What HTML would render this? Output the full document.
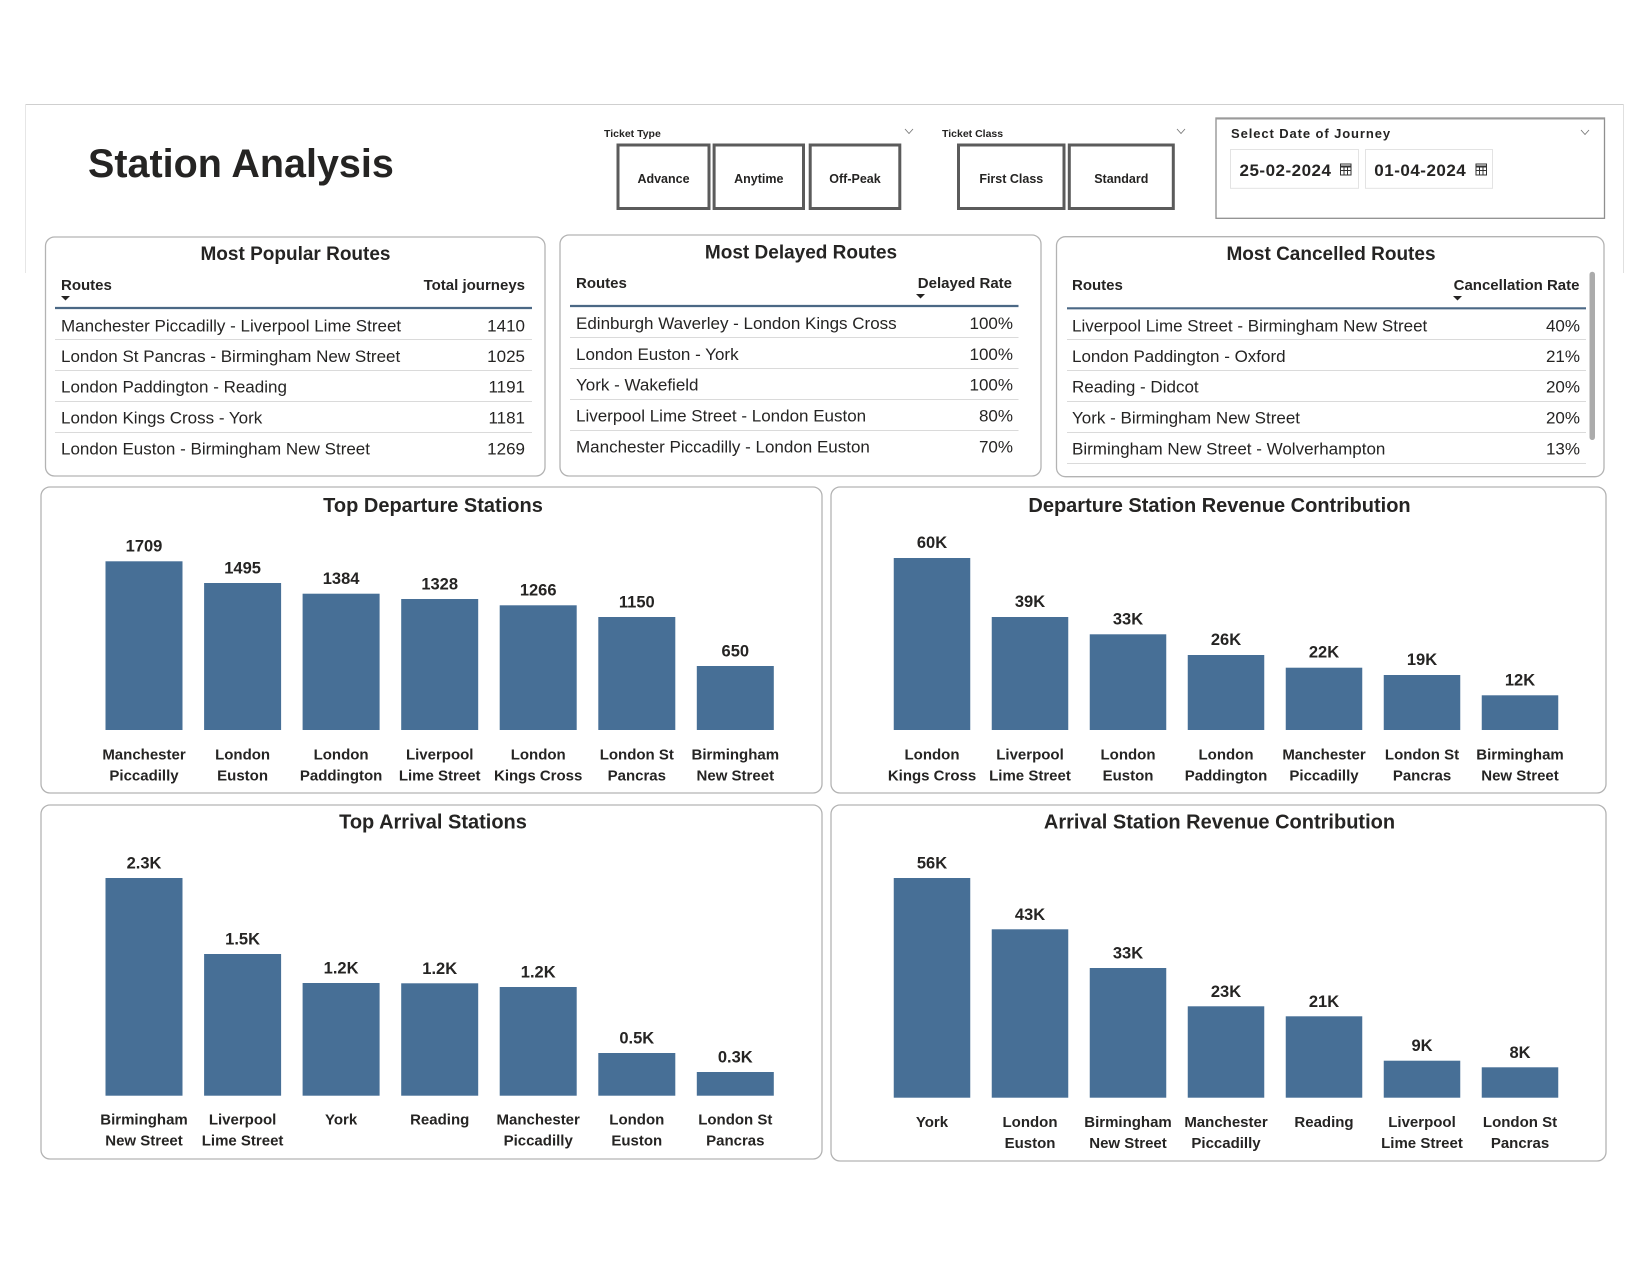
<!DOCTYPE html>
<html><head><meta charset="utf-8"><style>
html,body{margin:0;padding:0;background:#fff;}
svg{display:block;}
text{font-family:"Liberation Sans",Arial,sans-serif;fill:#252423;}
.b{font-weight:bold;}
.t17{font-size:17px;}
.h{font-size:15px;font-weight:bold;}
.ct{font-size:20px;font-weight:bold;}
.tt{font-size:19px;font-weight:bold;}
.v{font-size:16.5px;font-weight:bold;}
.x{font-size:15px;font-weight:bold;}
.bar{fill:#476f96;}
.pan{fill:#fff;stroke:#b3b3b3;stroke-width:1.3;}
.sep{stroke:#dadada;stroke-width:1;}
.hl{stroke:#4b6885;stroke-width:2.2;}
.btn{fill:#fff;stroke:#5b5b5b;stroke-width:3;}
.chev{fill:none;stroke:#777;stroke-width:0.9;}
</style></head><body>
<svg width="1650" height="1275" viewBox="0 0 1650 1275" xmlns="http://www.w3.org/2000/svg">
<rect x="0" y="0" width="1650" height="1275" fill="#fff"/>
<!-- frame lines -->
<line x1="25" y1="104.5" x2="1624" y2="104.5" stroke="#cfcfcf" stroke-width="1"/>
<line x1="25.5" y1="104" x2="25.5" y2="273" stroke="#e6e6e6" stroke-width="1"/>
<line x1="1623.5" y1="104" x2="1623.5" y2="273" stroke="#e0e0e0" stroke-width="1"/>

<!-- Title -->
<text x="88" y="177" class="b" style="font-size:39.5px">Station Analysis</text>

<!-- Ticket Type -->
<text x="604" y="137" class="b" style="font-size:10.5px">Ticket Type</text>
<polyline class="chev" points="905,129 909,133.5 913,129"/>
<rect class="btn" x="618" y="145" width="91" height="63.5"/>
<rect class="btn" x="714.1" y="145" width="89.4" height="63.5"/>
<rect class="btn" x="810.2" y="145" width="89.6" height="63.5"/>
<text x="663.5" y="182.8" text-anchor="middle" class="b" style="font-size:12.5px">Advance</text>
<text x="758.8" y="182.8" text-anchor="middle" class="b" style="font-size:12.5px">Anytime</text>
<text x="855" y="182.8" text-anchor="middle" class="b" style="font-size:12.5px">Off-Peak</text>

<!-- Ticket Class -->
<text x="942" y="137" class="b" style="font-size:10.5px">Ticket Class</text>
<polyline class="chev" points="1177,129 1181,133.5 1185,129"/>
<rect class="btn" x="958.5" y="145" width="105.5" height="63.5"/>
<rect class="btn" x="1069.3" y="145" width="104" height="63.5"/>
<text x="1011.3" y="182.8" text-anchor="middle" class="b" style="font-size:12.5px">First Class</text>
<text x="1121.3" y="182.8" text-anchor="middle" class="b" style="font-size:12.5px">Standard</text>

<!-- Date box -->
<rect x="1216" y="118" width="388.5" height="100.3" fill="#fff" stroke="#8f8f8f" stroke-width="1.3"/>
<line x1="1216" y1="118.5" x2="1604.5" y2="118.5" stroke="#9a9a9a" stroke-width="2"/>
<text x="1231" y="138" class="b" style="font-size:13px;letter-spacing:0.9px">Select Date of Journey</text>
<polyline class="chev" points="1581,130 1585,134.5 1589,130"/>
<rect x="1230.5" y="149.5" width="128" height="38.8" fill="#fff" stroke="#e3e3e3" stroke-width="1"/>
<rect x="1365.5" y="149.5" width="127" height="38.8" fill="#fff" stroke="#e3e3e3" stroke-width="1"/>
<text x="1239.5" y="176" class="b" style="font-size:17px;letter-spacing:0.5px">25-02-2024</text>
<text x="1374.3" y="176" class="b" style="font-size:17px;letter-spacing:0.5px">01-04-2024</text>
<g fill="none" stroke="#333" stroke-width="1">
<rect x="1340.5" y="164" width="10.5" height="11"/>
<line x1="1340.5" y1="166.5" x2="1351" y2="166.5" stroke-width="2"/>
<line x1="1344" y1="167" x2="1344" y2="175"/><line x1="1347.5" y1="167" x2="1347.5" y2="175"/>
<line x1="1340.5" y1="170.5" x2="1351" y2="170.5"/>
<rect x="1476" y="164" width="10.5" height="11"/>
<line x1="1476" y1="166.5" x2="1486.5" y2="166.5" stroke-width="2"/>
<line x1="1479.5" y1="167" x2="1479.5" y2="175"/><line x1="1483" y1="167" x2="1483" y2="175"/>
<line x1="1476" y1="170.5" x2="1486.5" y2="170.5"/>
</g>

<!-- Most Popular Routes -->
<rect class="pan" x="45.5" y="237" width="499.5" height="239" rx="9"/>
<text x="295.5" y="260" text-anchor="middle" class="tt">Most Popular Routes</text>
<text x="61" y="290" class="h">Routes</text>
<text x="525" y="290" text-anchor="end" class="h">Total journeys</text>
<polygon points="61,296 70,296 65.5,300.5" fill="#252423"/>
<line class="hl" x1="55" y1="308" x2="532" y2="308"/>
<g class="t17">
<text x="61" y="331.5">Manchester Piccadilly - Liverpool Lime Street</text>
<text x="61" y="362">London St Pancras - Birmingham New Street</text>
<text x="61" y="392.5">London Paddington - Reading</text>
<text x="61" y="423.5">London Kings Cross - York</text>
<text x="61" y="454.5">London Euston - Birmingham New Street</text>
<text x="525" y="331.5" text-anchor="end">1410</text>
<text x="525" y="362" text-anchor="end">1025</text>
<text x="525" y="392.5" text-anchor="end">1191</text>
<text x="525" y="423.5" text-anchor="end">1181</text>
<text x="525" y="454.5" text-anchor="end">1269</text>
</g>
<line class="sep" x1="55" y1="339.5" x2="532" y2="339.5"/>
<line class="sep" x1="55" y1="370.5" x2="532" y2="370.5"/>
<line class="sep" x1="55" y1="401.5" x2="532" y2="401.5"/>
<line class="sep" x1="55" y1="432.5" x2="532" y2="432.5"/>

<!-- Most Delayed Routes -->
<rect class="pan" x="560" y="235" width="481" height="241" rx="9"/>
<text x="801" y="258.5" text-anchor="middle" class="tt">Most Delayed Routes</text>
<text x="576" y="288" class="h">Routes</text>
<text x="1012" y="288" text-anchor="end" class="h">Delayed Rate</text>
<polygon points="916,294 925,294 920.5,298.5" fill="#252423"/>
<line class="hl" x1="570" y1="306" x2="1018.5" y2="306"/>
<g class="t17">
<text x="576" y="329">Edinburgh Waverley - London Kings Cross</text>
<text x="576" y="360">London Euston - York</text>
<text x="576" y="390.5">York - Wakefield</text>
<text x="576" y="421.5">Liverpool Lime Street - London Euston</text>
<text x="576" y="452.5">Manchester Piccadilly - London Euston</text>
<text x="1013" y="329" text-anchor="end">100%</text>
<text x="1013" y="360" text-anchor="end">100%</text>
<text x="1013" y="390.5" text-anchor="end">100%</text>
<text x="1013" y="421.5" text-anchor="end">80%</text>
<text x="1013" y="452.5" text-anchor="end">70%</text>
</g>
<line class="sep" x1="570" y1="337.5" x2="1018.5" y2="337.5"/>
<line class="sep" x1="570" y1="368.5" x2="1018.5" y2="368.5"/>
<line class="sep" x1="570" y1="399.5" x2="1018.5" y2="399.5"/>
<line class="sep" x1="570" y1="430.5" x2="1018.5" y2="430.5"/>

<!-- Most Cancelled Routes -->
<rect class="pan" x="1056.5" y="236.7" width="547.5" height="240" rx="9"/>
<text x="1331" y="260" text-anchor="middle" class="tt">Most Cancelled Routes</text>
<text x="1072" y="290" class="h">Routes</text>
<text x="1579.5" y="290" text-anchor="end" class="h">Cancellation Rate</text>
<polygon points="1453,296 1462,296 1457.5,300.5" fill="#252423"/>
<line class="hl" x1="1067" y1="308.3" x2="1586" y2="308.3"/>
<g class="t17">
<text x="1072" y="331.5">Liverpool Lime Street - Birmingham New Street</text>
<text x="1072" y="362">London Paddington - Oxford</text>
<text x="1072" y="392.5">Reading - Didcot</text>
<text x="1072" y="423.5">York - Birmingham New Street</text>
<text x="1072" y="454.5">Birmingham New Street - Wolverhampton</text>
<text x="1580" y="331.5" text-anchor="end">40%</text>
<text x="1580" y="362" text-anchor="end">21%</text>
<text x="1580" y="392.5" text-anchor="end">20%</text>
<text x="1580" y="423.5" text-anchor="end">20%</text>
<text x="1580" y="454.5" text-anchor="end">13%</text>
</g>
<line class="sep" x1="1067" y1="339.5" x2="1586" y2="339.5"/>
<line class="sep" x1="1067" y1="370.5" x2="1586" y2="370.5"/>
<line class="sep" x1="1067" y1="401.5" x2="1586" y2="401.5"/>
<line class="sep" x1="1067" y1="432.5" x2="1586" y2="432.5"/>
<line class="sep" x1="1067" y1="463.5" x2="1586" y2="463.5"/>
<rect x="1589.5" y="271.7" width="5.5" height="168.3" rx="2.75" fill="#ababab"/>

<!-- Top Departure Stations -->
<rect class="pan" x="41" y="487" width="781" height="306" rx="9"/>
<text x="433" y="512" text-anchor="middle" class="ct">Top Departure Stations</text>
<rect class="bar" x="105.5" y="561.3" width="77" height="168.7"/>
<rect class="bar" x="204.1" y="583" width="77" height="147"/>
<rect class="bar" x="302.6" y="593.7" width="77" height="136.3"/>
<rect class="bar" x="401.2" y="599" width="77" height="131"/>
<rect class="bar" x="499.7" y="605.3" width="77" height="124.7"/>
<rect class="bar" x="598.3" y="617" width="77" height="113"/>
<rect class="bar" x="696.8" y="666" width="77" height="64"/>
<g class="v" text-anchor="middle">
<text x="144" y="551.7">1709</text>
<text x="242.6" y="573.4">1495</text>
<text x="341.1" y="584.1">1384</text>
<text x="439.7" y="589.4">1328</text>
<text x="538.2" y="595.7">1266</text>
<text x="636.8" y="607.4">1150</text>
<text x="735.3" y="656.4">650</text>
</g>
<g class="x" text-anchor="middle">
<text x="144" y="759.5">Manchester</text><text x="144" y="780.5">Piccadilly</text>
<text x="242.6" y="759.5">London</text><text x="242.6" y="780.5">Euston</text>
<text x="341.1" y="759.5">London</text><text x="341.1" y="780.5">Paddington</text>
<text x="439.7" y="759.5">Liverpool</text><text x="439.7" y="780.5">Lime Street</text>
<text x="538.2" y="759.5">London</text><text x="538.2" y="780.5">Kings Cross</text>
<text x="636.8" y="759.5">London St</text><text x="636.8" y="780.5">Pancras</text>
<text x="735.3" y="759.5">Birmingham</text><text x="735.3" y="780.5">New Street</text>
</g>

<!-- Departure Station Revenue Contribution -->
<rect class="pan" x="831" y="487" width="775" height="306" rx="9"/>
<text x="1219.5" y="512" text-anchor="middle" class="ct">Departure Station Revenue Contribution</text>
<rect class="bar" x="893.75" y="558" width="76.5" height="172"/>
<rect class="bar" x="991.75" y="617" width="76.5" height="113"/>
<rect class="bar" x="1089.75" y="634.3" width="76.5" height="95.7"/>
<rect class="bar" x="1187.75" y="655" width="76.5" height="75"/>
<rect class="bar" x="1285.75" y="667.7" width="76.5" height="62.3"/>
<rect class="bar" x="1383.75" y="675" width="76.5" height="55"/>
<rect class="bar" x="1481.75" y="695.3" width="76.5" height="34.7"/>
<g class="v" text-anchor="middle">
<text x="932" y="548">60K</text>
<text x="1030" y="607">39K</text>
<text x="1128" y="624.3">33K</text>
<text x="1226" y="645">26K</text>
<text x="1324" y="657.7">22K</text>
<text x="1422" y="665">19K</text>
<text x="1520" y="685.3">12K</text>
</g>
<g class="x" text-anchor="middle">
<text x="932" y="759.5">London</text><text x="932" y="780.5">Kings Cross</text>
<text x="1030" y="759.5">Liverpool</text><text x="1030" y="780.5">Lime Street</text>
<text x="1128" y="759.5">London</text><text x="1128" y="780.5">Euston</text>
<text x="1226" y="759.5">London</text><text x="1226" y="780.5">Paddington</text>
<text x="1324" y="759.5">Manchester</text><text x="1324" y="780.5">Piccadilly</text>
<text x="1422" y="759.5">London St</text><text x="1422" y="780.5">Pancras</text>
<text x="1520" y="759.5">Birmingham</text><text x="1520" y="780.5">New Street</text>
</g>

<!-- Top Arrival Stations -->
<rect class="pan" x="41" y="805" width="781" height="354" rx="9"/>
<text x="433" y="828.7" text-anchor="middle" class="ct">Top Arrival Stations</text>
<rect class="bar" x="105.5" y="878" width="77" height="217.7"/>
<rect class="bar" x="204.1" y="954" width="77" height="141.7"/>
<rect class="bar" x="302.6" y="983" width="77" height="112.7"/>
<rect class="bar" x="401.2" y="983.3" width="77" height="112.4"/>
<rect class="bar" x="499.7" y="987" width="77" height="108.7"/>
<rect class="bar" x="598.3" y="1053" width="77" height="42.7"/>
<rect class="bar" x="696.8" y="1072" width="77" height="23.7"/>
<g class="v" text-anchor="middle">
<text x="144" y="868.5">2.3K</text>
<text x="242.6" y="944.5">1.5K</text>
<text x="341.1" y="973.5">1.2K</text>
<text x="439.7" y="973.8">1.2K</text>
<text x="538.2" y="977.5">1.2K</text>
<text x="636.8" y="1043.5">0.5K</text>
<text x="735.3" y="1062.5">0.3K</text>
</g>
<g class="x" text-anchor="middle">
<text x="144" y="1124.5">Birmingham</text><text x="144" y="1145.5">New Street</text>
<text x="242.6" y="1124.5">Liverpool</text><text x="242.6" y="1145.5">Lime Street</text>
<text x="341.1" y="1124.5">York</text>
<text x="439.7" y="1124.5">Reading</text>
<text x="538.2" y="1124.5">Manchester</text><text x="538.2" y="1145.5">Piccadilly</text>
<text x="636.8" y="1124.5">London</text><text x="636.8" y="1145.5">Euston</text>
<text x="735.3" y="1124.5">London St</text><text x="735.3" y="1145.5">Pancras</text>
</g>

<!-- Arrival Station Revenue Contribution -->
<rect class="pan" x="831" y="805" width="775" height="356" rx="9"/>
<text x="1219.5" y="828.7" text-anchor="middle" class="ct">Arrival Station Revenue Contribution</text>
<rect class="bar" x="893.75" y="878" width="76.5" height="219.7"/>
<rect class="bar" x="991.75" y="929.3" width="76.5" height="168.4"/>
<rect class="bar" x="1089.75" y="968" width="76.5" height="129.7"/>
<rect class="bar" x="1187.75" y="1006.3" width="76.5" height="91.4"/>
<rect class="bar" x="1285.75" y="1016.3" width="76.5" height="81.4"/>
<rect class="bar" x="1383.75" y="1060.7" width="76.5" height="37"/>
<rect class="bar" x="1481.75" y="1067.3" width="76.5" height="30.4"/>
<g class="v" text-anchor="middle">
<text x="932" y="868.5">56K</text>
<text x="1030" y="919.8">43K</text>
<text x="1128" y="958.5">33K</text>
<text x="1226" y="996.8">23K</text>
<text x="1324" y="1006.8">21K</text>
<text x="1422" y="1051.2">9K</text>
<text x="1520" y="1057.8">8K</text>
</g>
<g class="x" text-anchor="middle">
<text x="932" y="1127">York</text>
<text x="1030" y="1127">London</text><text x="1030" y="1148">Euston</text>
<text x="1128" y="1127">Birmingham</text><text x="1128" y="1148">New Street</text>
<text x="1226" y="1127">Manchester</text><text x="1226" y="1148">Piccadilly</text>
<text x="1324" y="1127">Reading</text>
<text x="1422" y="1127">Liverpool</text><text x="1422" y="1148">Lime Street</text>
<text x="1520" y="1127">London St</text><text x="1520" y="1148">Pancras</text>
</g>
</svg>
</body></html>
